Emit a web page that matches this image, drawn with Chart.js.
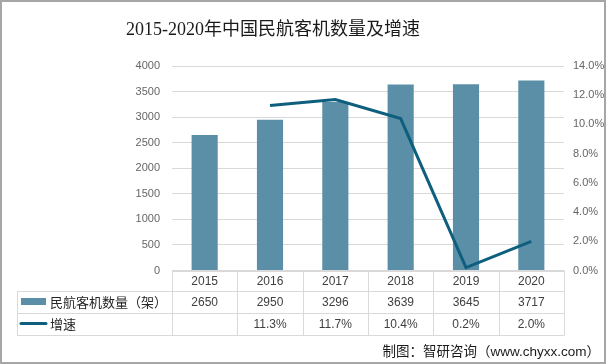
<!DOCTYPE html>
<html>
<head>
<meta charset="utf-8">
<script src="https://cdn.jsdelivr.net/npm/chart.js@4"></script>
<style>
html,body{margin:0;padding:0;background:#fff;}
#wrap{width:606px;height:364px;position:relative;}
</style>
</head>
<body>
<div id="wrap"><canvas id="c" width="606" height="364"></canvas></div>
<script>
const titleText = '2015-2020年中国民航客机数量及增速';
const sourceText = '制图：智研咨询（www.chyxx.com）';
const categories = ['2015', '2016', '2017', '2018', '2019', '2020'];
const fleetLabel = '民航客机数量（架）';
const fleet = [2650, 2950, 3296, 3639, 3645, 3717];
const growthLabel = '增速';
const growth = [null, 11.3, 11.7, 10.4, 0.2, 2.0];
const leftTicks = [0, 500, 1000, 1500, 2000, 2500, 3000, 3500, 4000];
const rightTicks = [0, 2, 4, 6, 8, 10, 12, 14];

const barColor = '#5b8fa7';
const lineColor = '#0e5f7e';
const gridColor = '#d9d9d9';
const textColor = '#404040';
const tickColor = '#666666';
const cjkSans = '"Liberation Sans", "Noto Sans CJK SC", sans-serif';

const tablePlugin = {
  id: 'tablePlugin',
  afterDraw(chart) {
    const ctx = chart.ctx;
    const x = chart.scales.x;
    const area = chart.chartArea;
    const n = categories.length;
    const step = (area.right - area.left) / n;
    const left = area.left, right = area.right;
    const legendLeft = 17;
    const rows = [area.bottom, 291.5, 313.5, 335.5];
    ctx.save();
    ctx.strokeStyle = gridColor;
    ctx.lineWidth = 1;
    ctx.beginPath();
    ctx.moveTo(left, Math.round(rows[0]) + 0.5); ctx.lineTo(right, Math.round(rows[0]) + 0.5);
    for (let r = 1; r < rows.length; r++) {
      ctx.moveTo(legendLeft, rows[r]); ctx.lineTo(right, rows[r]);
    }
    ctx.moveTo(legendLeft + 0.5, rows[1]); ctx.lineTo(legendLeft + 0.5, rows[3]);
    for (let i = 0; i <= n; i++) {
      const px = Math.round(left + i * step) + 0.5;
      ctx.moveTo(px, rows[0]); ctx.lineTo(px, rows[3]);
    }
    ctx.stroke();

    ctx.fillStyle = textColor;
    ctx.font = '12px "Liberation Sans", sans-serif';
    ctx.textAlign = 'center';
    ctx.textBaseline = 'middle';
    for (let i = 0; i < n; i++) {
      const cx = x.getPixelForValue(i);
      ctx.fillText(categories[i], cx, (rows[0] + rows[1]) / 2 + 1);
      ctx.fillText(String(fleet[i]), cx, (rows[1] + rows[2]) / 2);
      if (growth[i] !== null) ctx.fillText(growth[i].toFixed(1) + '%', cx, (rows[2] + rows[3]) / 2);
    }

    ctx.fillStyle = barColor;
    ctx.fillRect(21, 298, 25, 7);
    ctx.strokeStyle = lineColor;
    ctx.lineWidth = 3;
    ctx.lineCap = 'round';
    ctx.beginPath();
    ctx.moveTo(21, 323.5); ctx.lineTo(46, 323.5);
    ctx.stroke();
    ctx.fillStyle = '#262626';
    ctx.textAlign = 'left';
    ctx.font = '13px "Noto Sans CJK SC", sans-serif';
    ctx.fillText(fleetLabel, 50, (rows[1] + rows[2]) / 2);
    ctx.fillText(growthLabel, 50, (rows[2] + rows[3]) / 2);

    ctx.fillStyle = '#1a1a1a';
    ctx.textAlign = 'center';
    ctx.font = '18px "Liberation Serif", "Noto Sans CJK SC", serif';
    ctx.fillText(titleText, 273, 30);

    ctx.textAlign = 'right';
    ctx.font = '13.5px ' + cjkSans;
    ctx.fillStyle = '#1a1a1a';
    ctx.fillText(sourceText, 600, 352);

    ctx.strokeStyle = '#a6a6a6';
    ctx.lineWidth = 2;
    ctx.strokeRect(1, 1, 604, 362);
    ctx.restore();
  }
};

new Chart(document.getElementById('c'), {
  type: 'bar',
  data: {
    labels: categories,
    datasets: [
      {
        type: 'line',
        label: growthLabel,
        data: growth,
        yAxisID: 'y1',
        borderColor: lineColor,
        borderWidth: 3,
        pointRadius: 0,
        tension: 0,
        spanGaps: false,
        order: 0
      },
      {
        type: 'bar',
        label: fleetLabel,
        data: fleet,
        yAxisID: 'y',
        backgroundColor: barColor,
        barPercentage: 0.8,
        categoryPercentage: 0.5,
        order: 1
      }
    ]
  },
  options: {
    responsive: false,
    animation: false,
    devicePixelRatio: 1,
    layout: { padding: { top: 66, bottom: 93.5, left: 0, right: 0 } },
    plugins: { legend: { display: false }, title: { display: false }, tooltip: { enabled: false } },
    scales: {
      x: { display: false, offset: true },
      y: {
        position: 'left',
        min: 0, max: 4000,
        afterBuildTicks(s) { s.ticks = leftTicks.map(v => ({ value: v })); },
        afterFit(s) { s.width = 172; },
        grid: { color: gridColor, drawTicks: false },
        border: { display: false },
        ticks: { color: tickColor, font: { size: 11, family: '"Liberation Sans", sans-serif' }, padding: 12,
          callback: v => String(v) }
      },
      y1: {
        position: 'right',
        min: 0, max: 14,
        afterBuildTicks(s) { s.ticks = rightTicks.map(v => ({ value: v })); },
        afterFit(s) { s.width = 42; },
        grid: { drawOnChartArea: false, drawTicks: false },
        border: { display: false },
        ticks: { color: tickColor, font: { size: 11, family: '"Liberation Sans", sans-serif' }, padding: 9,
          callback: v => Number(v).toFixed(1) + '%' }
      }
    }
  },
  plugins: [tablePlugin]
});
</script>
</body>
</html>
